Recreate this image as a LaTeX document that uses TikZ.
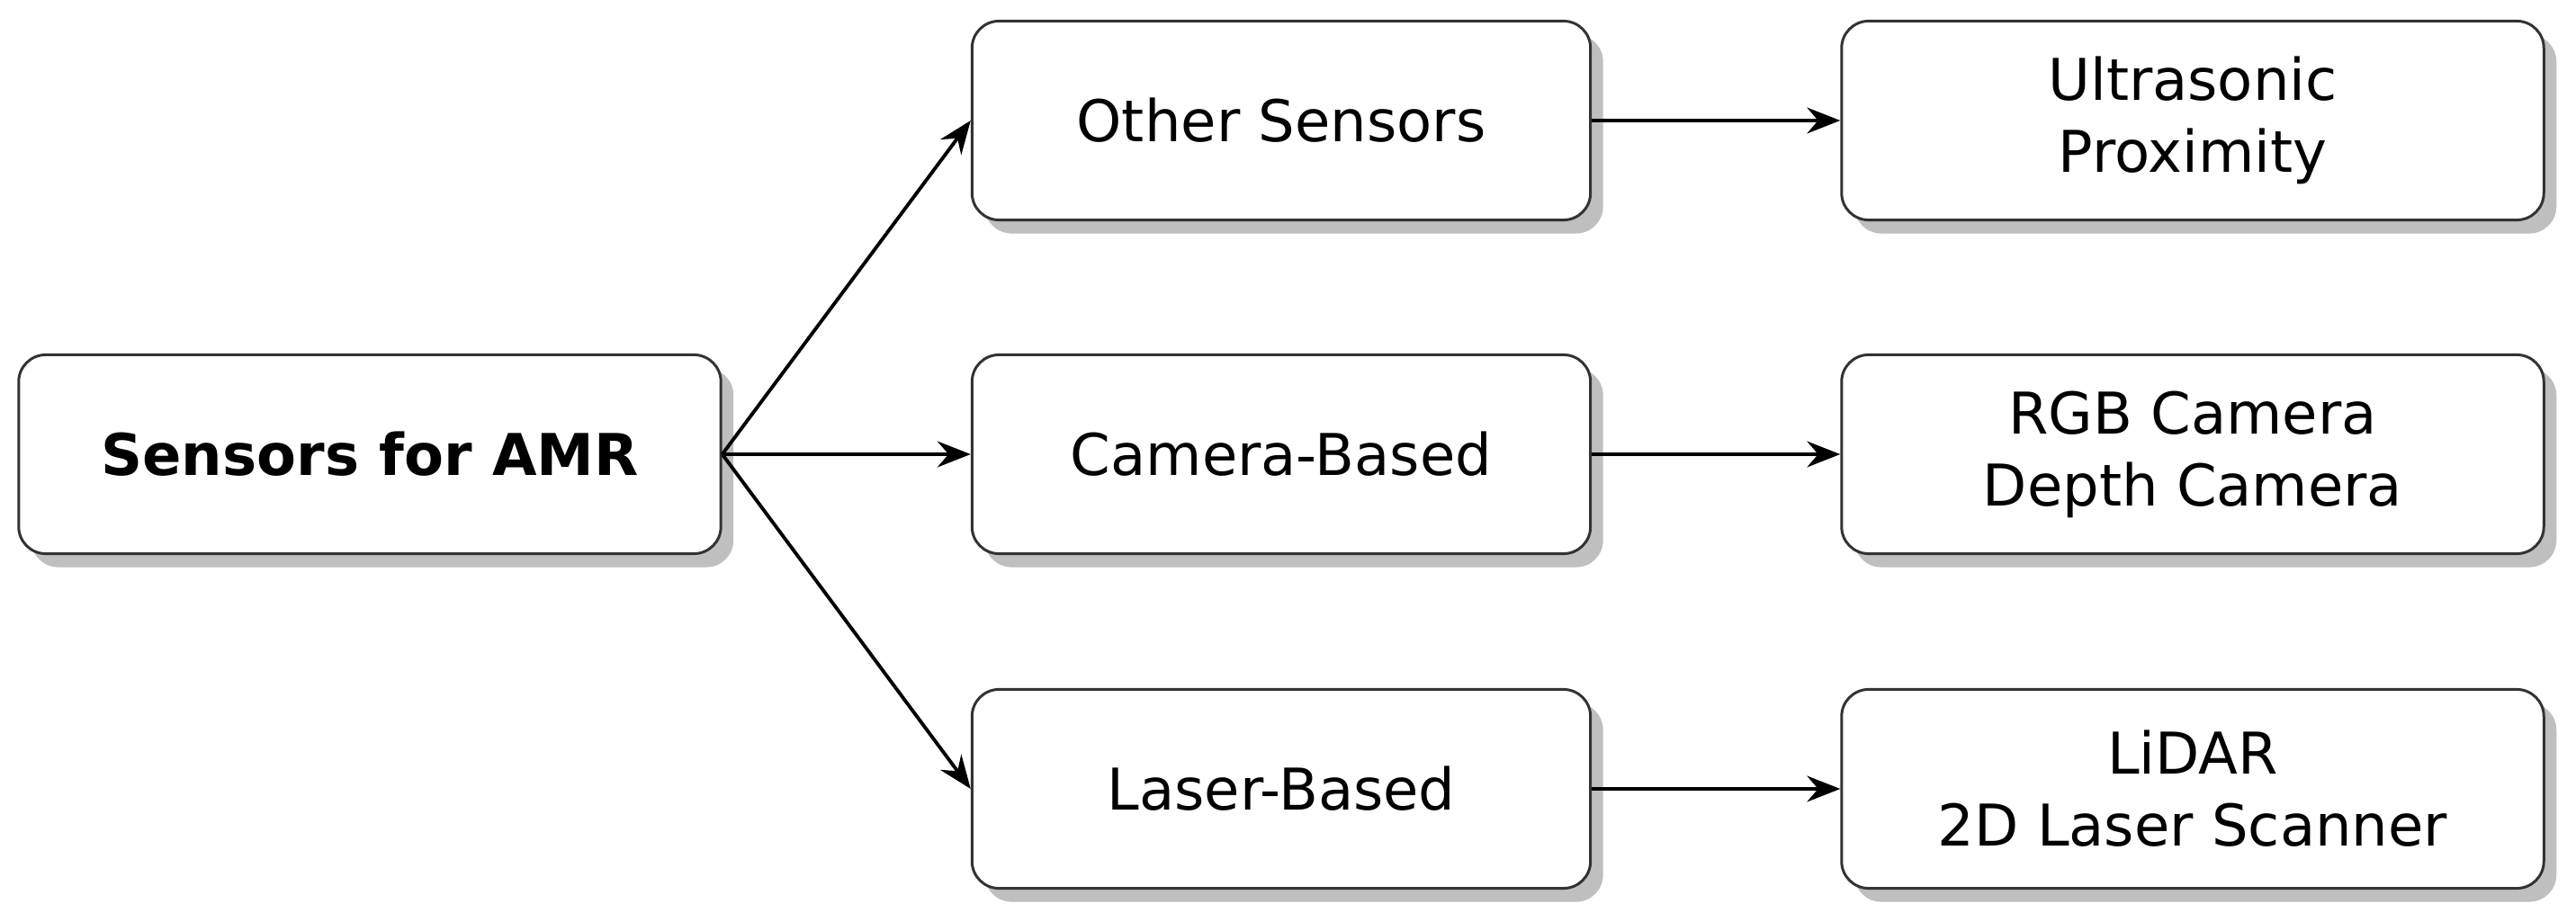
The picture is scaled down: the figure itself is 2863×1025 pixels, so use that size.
\documentclass[tikz,border=0pt]{standalone}
\usepackage{fontspec}
\setmainfont{DejaVu Sans}
\usetikzlibrary{arrows.meta,shadows}
\begin{document}
\begin{tikzpicture}[x=0.01cm,y=-0.01cm,
  box/.style={draw=black!80, line width=0.85pt, fill=white, rounded corners=0.3cm,
    align=center, inner sep=0pt, minimum height=2.21cm,
    font=\fontsize{18.2}{22.7}\selectfont,
    drop shadow={shadow xshift=0.14cm, shadow yshift=-0.15cm, fill=black!25, opacity=1}},
  wide/.style={box, minimum width=7.8cm},
  mid/.style={box, minimum width=6.87cm},
  conn/.style={line width=1.1pt, -{Stealth[length=10.5pt,width=8.2pt,inset=3.5pt]}}]
\useasboundingbox (0,0) rectangle (2863,1025);
\node[wide, font=\fontsize{18.2}{22.7}\selectfont\bfseries] (root) at (411,505) {Sensors for AMR};
\node[mid] (other) at (1424,134) {Other Sensors};
\node[mid] (cam) at (1424,505) {Camera-Based};
\node[mid] (laser) at (1424,877) {Laser-Based};
\node[wide] (ultra) at (2437,134) {Ultrasonic\\Proximity};
\node[wide] (rgb) at (2437,505) {RGB Camera\\Depth Camera};
\node[wide] (lidar) at (2437,877) {LiDAR\\2D Laser Scanner};
\draw[conn] (root.east) -- (other.west);
\draw[conn] (root.east) -- (cam.west);
\draw[conn] (root.east) -- (laser.west);
\draw[conn] (other.east) -- (ultra.west);
\draw[conn] (cam.east) -- (rgb.west);
\draw[conn] (laser.east) -- (lidar.west);
\end{tikzpicture}
\end{document}
